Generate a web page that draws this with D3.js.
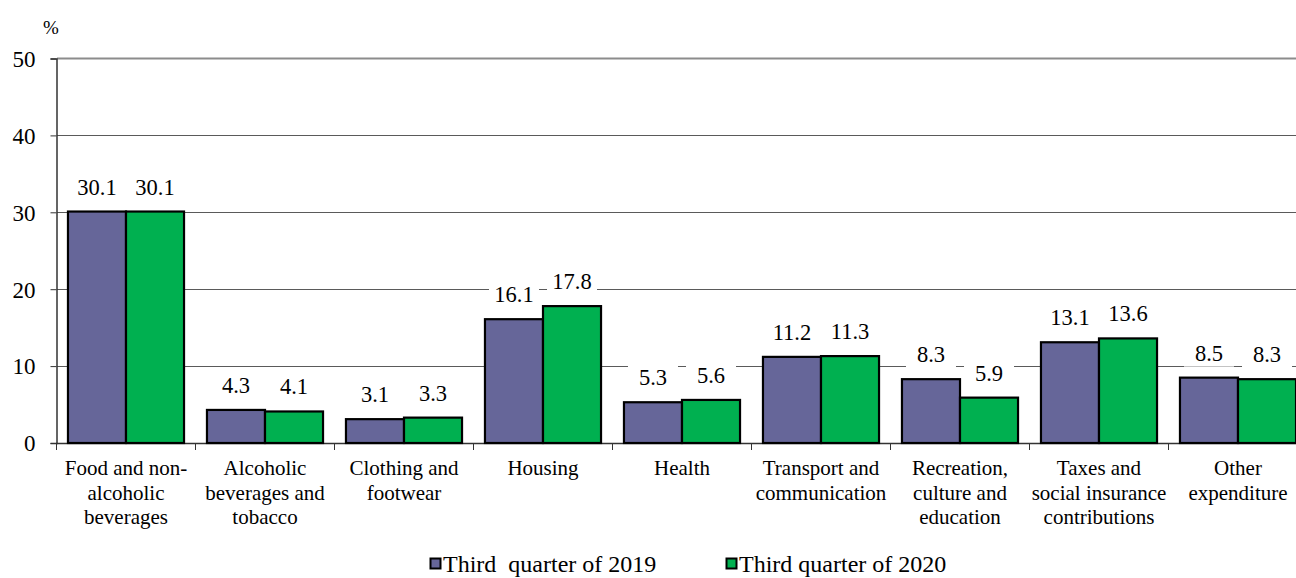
<!DOCTYPE html>
<html>
<head>
<meta charset="utf-8">
<script src="https://cdn.jsdelivr.net/npm/d3@7"></script>
<style>
  body { margin: 0; background: #fff; }
  svg text { font-family: "Liberation Serif", "Times New Roman", serif; fill: #000; }
</style>
</head>
<body>
<div id="chart"></div>
<script>
const width = 1296,
      height = 578;

// data
const categories = [
  ["Food and non-", "alcoholic", "beverages"],
  ["Alcoholic", "beverages and", "tobacco"],
  ["Clothing and", "footwear"],
  ["Housing"],
  ["Health"],
  ["Transport and", "communication"],
  ["Recreation,", "culture and", "education"],
  ["Taxes and", "social insurance", "contributions"],
  ["Other", "expenditure"]
];
const seriesNames = ["Third  quarter of 2019", "Third quarter of 2020"];
const values2019 = [30.1, 4.3, 3.1, 16.1, 5.3, 11.2, 8.3, 13.1, 8.5];
const values2020 = [30.1, 4.1, 3.3, 17.8, 5.6, 11.3, 5.9, 13.6, 8.3];
const yTicks = [0, 10, 20, 30, 40, 50];
const colors = ["#666699", "#00b050"];

const keys = categories.map((c, i) => "c" + i);
const rows = keys.map((k, i) => ({ key: k, label: categories[i], vals: [values2019[i], values2020[i]] }));

const svg = d3.select("#chart").append("svg")
  .attr("width", width)
  .attr("height", height);

const x = d3.scaleBand()
  .domain(keys)
  .range([56.5, 56.5 + 139 * 9])
  .paddingInner(0.165)
  .paddingOuter(0.0825);

const xs = d3.scaleBand()
  .domain([0, 1])
  .range([0, x.bandwidth()]);

const y = d3.scaleLinear()
  .domain([0, 50])
  .range([443, 58.5]);

// gridlines
svg.append("g")
  .selectAll("line")
  .data(yTicks.filter(t => t > 0 && t < 50))
  .join("line")
  .attr("x1", 57).attr("x2", width)
  .attr("y1", d => Math.round(y(d)) + 0.5)
  .attr("y2", d => Math.round(y(d)) + 0.5)
  .attr("stroke", "#5a5a5a")
  .attr("stroke-width", 1);

svg.append("line")
  .attr("x1", 57).attr("x2", width)
  .attr("y1", y(50)).attr("y2", y(50))
  .attr("stroke", "#8c8c8c")
  .attr("stroke-width", 2);

// y axis
const yAxis = svg.append("g")
  .attr("transform", "translate(56.5,0)")
  .call(d3.axisLeft(y).tickValues(yTicks).tickSize(6).tickPadding(0).tickFormat(d3.format("d")));
yAxis.select(".domain").attr("stroke", "#333").attr("stroke-width", 1.5);
yAxis.selectAll(".tick line").attr("stroke", "#333");
yAxis.selectAll(".tick text")
  .attr("x", -21)
  .attr("dy", "0.34em")
  .style("font-size", "23px")
  .style("font-family", "Liberation Serif");

svg.append("text")
  .attr("x", 43).attr("y", 34)
  .style("font-size", "19px")
  .text("%");

// x axis
svg.append("line")
  .attr("x1", 56).attr("x2", width)
  .attr("y1", 443.5).attr("y2", 443.5)
  .attr("stroke", "#333").attr("stroke-width", 1.5);

svg.append("g")
  .selectAll("line")
  .data(d3.range(keys.length + 1))
  .join("line")
  .attr("x1", i => 56.5 + x.step() * i)
  .attr("x2", i => 56.5 + x.step() * i)
  .attr("y1", 443).attr("y2", 450)
  .attr("stroke", "#333");

// groups
const groups = svg.append("g")
  .selectAll("g")
  .data(rows)
  .join("g")
  .attr("transform", d => `translate(${x(d.key)},0)`);

// value label backgrounds (cover gridlines)
const labelData = d => d.vals.map((v, j) => ({ v, j }));
const fmt = d3.format(".1f");

groups.selectAll("rect.bg")
  .data(labelData)
  .join("rect")
  .attr("class", "bg")
  .attr("x", d => xs(d.j) + xs.bandwidth() / 2 - 25)
  .attr("y", d => y(d.v) - 37)
  .attr("width", 50)
  .attr("height", 26)
  .attr("fill", "#fff");

groups.selectAll("rect.bar")
  .data(labelData)
  .join("rect")
  .attr("class", "bar")
  .attr("x", d => xs(d.j))
  .attr("y", d => y(d.v))
  .attr("width", xs.bandwidth())
  .attr("height", d => y(0) - y(d.v))
  .attr("fill", d => colors[d.j])
  .attr("stroke", "#000")
  .attr("stroke-width", 2.2);

groups.selectAll("text.val")
  .data(labelData)
  .join("text")
  .attr("class", "val")
  .attr("x", d => xs(d.j) + xs.bandwidth() / 2)
  .attr("y", d => y(d.v) - 17)
  .attr("text-anchor", "middle")
  .style("font-size", "22.5px")
  .text(d => fmt(d.v));

// category labels
groups.append("text")
  .attr("text-anchor", "middle")
  .style("font-size", "21px")
  .selectAll("tspan")
  .data(d => d.label)
  .join("tspan")
  .attr("x", x.bandwidth() / 2)
  .attr("y", (d, i) => 475 + i * 24.5)
  .text(d => d);

// legend
const legendX = [430, 726];
const legend = svg.append("g")
  .selectAll("g")
  .data(seriesNames)
  .join("g")
  .attr("transform", (d, i) => `translate(${legendX[i]},0)`);

legend.append("rect")
  .attr("x", 0.5).attr("y", 558.5)
  .attr("width", 10).attr("height", 10)
  .attr("fill", (d, i) => colors[i])
  .attr("stroke", "#000").attr("stroke-width", 2);

legend.append("text")
  .attr("x", 13).attr("y", 572)
  .style("font-size", "24px")
  .style("white-space", "pre")
  .attr("xml:space", "preserve")
  .text(d => d);
</script>
</body>
</html>
